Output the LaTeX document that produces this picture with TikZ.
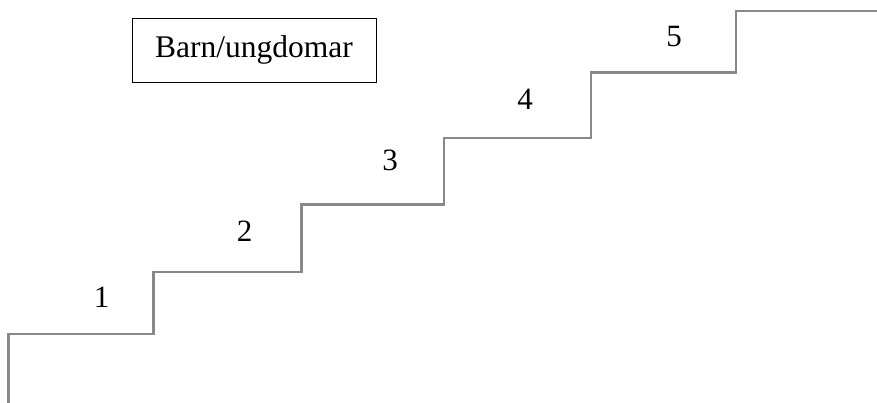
\documentclass[tikz,border=0pt]{standalone}
\usepackage{fontspec}
\setmainfont{Liberation Serif}
\definecolor{stairgray}{RGB}{136,136,136}
\begin{document}
\begin{tikzpicture}[x=1pt,y=-1pt,
  stair/.style={draw=stairgray,line width=2.1pt,line join=miter},
  num/.style={anchor=base,inner sep=0pt,font=\fontsize{31}{37}\selectfont},
  titlebox/.style={draw=black,line width=0.9pt,minimum width=244pt,minimum height=64pt,inner sep=0pt,font=\fontsize{31.5}{37}\selectfont}]
\useasboundingbox (0,0) rectangle (877,403);
\coordinate (s0) at (8.5,404);
\coordinate (s1) at (8.5,334);
\coordinate (s2) at (153.5,334);
\coordinate (s3) at (153.5,272);
\coordinate (s4) at (301.5,272);
\coordinate (s5) at (301.5,204.5);
\coordinate (s6) at (444,204.5);
\coordinate (s7) at (444,138);
\coordinate (s8) at (591,138);
\coordinate (s9) at (591,72.5);
\coordinate (s10) at (736,72.5);
\coordinate (s11) at (736,11);
\coordinate (s12) at (878,11);
\draw[stair] (s0) -- (s1) -- (s2) -- (s3) -- (s4) -- (s5) -- (s6) -- (s7) -- (s8) -- (s9) -- (s10) -- (s11) -- (s12);
\node[titlebox] (title) at (254,50) {Barn/ungdomar};
\node[num] (n1) at (101.5,307) {1};
\node[num] (n2) at (244.5,241) {2};
\node[num] (n3) at (390,171) {3};
\node[num] (n4) at (525,110) {4};
\node[num] (n5) at (674,46.5) {5};
\end{tikzpicture}
\end{document}
